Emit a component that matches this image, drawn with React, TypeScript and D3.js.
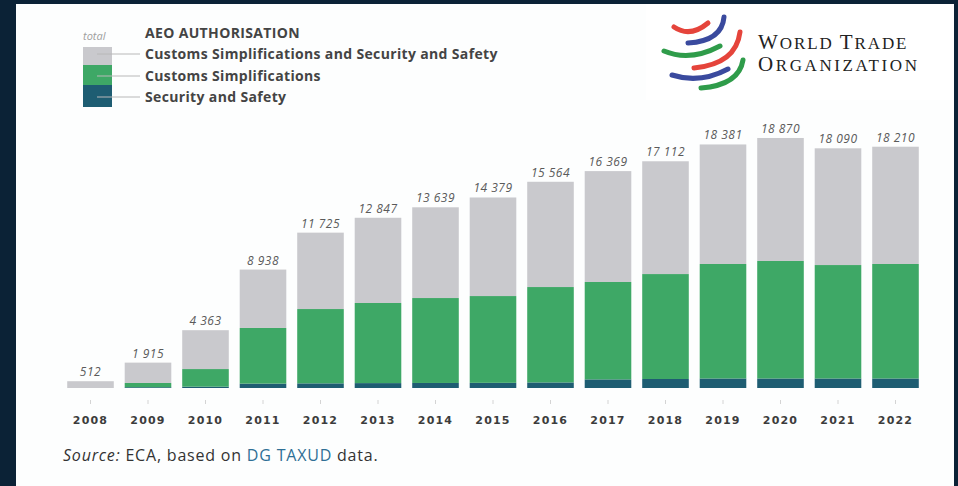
import * as React from 'react';
import * as d3 from 'd3';

// AEO authorisations per year
const years = ['2008', '2009', '2010', '2011', '2012', '2013', '2014', '2015', '2016', '2017', '2018', '2019', '2020', '2021', '2022'];
const totals = [512, 1915, 4363, 8938, 11725, 12847, 13639, 14379, 15564, 16369, 17112, 18381, 18870, 18090, 18210];
const securitySafety = [0, 60, 100, 330, 350, 370, 380, 390, 420, 650, 680, 720, 720, 720, 720];
const customsSimpl = [0, 320, 1330, 4200, 5610, 6045, 6410, 6550, 7200, 7350, 7920, 8640, 8865, 8560, 8640];

const legendItems = [
  {label: 'Customs Simplifications and Security and Safety', color: '#c9c9cd'},
  {label: 'Customs Simplifications', color: '#3ea866'},
  {label: 'Security and Safety', color: '#1e5d72'},
];

const W = 958;
const H = 486;

const fmt = (v: number) => d3.format(',d')(v).replace(',', ' ');

export default function App() {
  const x = d3.scaleBand<string>()
    .domain(years)
    .range([61.75, 924.25])
    .paddingInner(0.19)
    .paddingOuter(0.095);

  const y = d3.scaleLinear().domain([0, 20000]).range([388, 123]);

  const rows = years.map((yr, i) => {
    const ss = securitySafety[i];
    const cs = customsSimpl[i];
    return {yr, total: totals[i], ss, cs, both: totals[i] - ss - cs};
  });

  const stack = d3.stack<any>().keys(['ss', 'cs', 'both'])(rows);
  const colors: Record<string, string> = {ss: '#1e5d72', cs: '#3ea866', both: '#c9c9cd'};

  const font = '"Open Sans", sans-serif';

  return (
    <svg width={W} height={H} style={{position: 'absolute', left: 0, top: 0}} fontFamily={font}>
      <rect width={W} height={H} fill="#0b2236" />
      <rect x={16} y={4} width={938} height={H - 4} fill="#fdfefe" />

      {/* legend */}
      <text x={83} y={40} fontSize={11} fontStyle="italic" fill="#a0a0a0">total</text>
      <rect x={83} y={47} width={29} height={18} fill={legendItems[0].color} />
      <rect x={83} y={65} width={29} height={20} fill={legendItems[1].color} />
      <rect x={83} y={85} width={29} height={22} fill={legendItems[2].color} />
      {[54, 76, 97].map(ly => (
        <line key={ly} x1={97} x2={140} y1={ly} y2={ly} stroke="#b8b8b8" strokeWidth={1} />
      ))}
      <text x={145} y={38} fontSize={14} fontWeight="bold" fill="#444" letterSpacing={0.35}>AEO AUTHORISATION</text>
      {legendItems.map((d, i) => (
        <text key={d.label} x={145} y={[59, 81, 102][i]} fontSize={14} fontWeight="bold" fill="#444" letterSpacing={0.35}>
          {d.label}
        </text>
      ))}

      {/* bars */}
      {stack.map(layer => (
        <g key={layer.key} fill={colors[layer.key]}>
          {layer.map((seg, i) => (
            seg[1] > seg[0] ? (
              <rect key={i} x={x(years[i])} y={y(seg[1])} width={x.bandwidth()}
                height={y(seg[0]) - y(seg[1])} />
            ) : null
          ))}
        </g>
      ))}

      {/* total labels */}
      {rows.map(r => (
        <text key={r.yr} x={(x(r.yr) as number) + x.bandwidth() / 2} y={y(r.total) - 5}
          textAnchor="middle" fontSize={12} fontStyle="italic" fill="#5a5a5a" letterSpacing={0.5}>
          {fmt(r.total)}
        </text>
      ))}

      {/* ticks and year labels */}
      {years.map(yr => {
        const cx = (x(yr) as number) + x.bandwidth() / 2;
        return (
          <g key={yr}>
            <line x1={cx} x2={cx} y1={400} y2={404} stroke="#d4d4d4" />
            <text x={cx} y={424} textAnchor="middle" fontSize={11} fontFamily='"DejaVu Sans", sans-serif'
              fontWeight="bold" fill="#3c3c3c" letterSpacing={1.2}>
              {yr}
            </text>
          </g>
        );
      })}

      <text x={63} y={461} fontSize={16} fill="#333" letterSpacing={0.8}>
        <tspan fontStyle="italic">Source:</tspan>
        <tspan> ECA, based on </tspan>
        <tspan fill="#2f6f95">DG TAXUD</tspan>
        <tspan> data.</tspan>
      </text>

      {/* WTO logo */}
      <rect x={646} y={4} width={305} height={96} fill="#ffffff" />
      <g fill="none" strokeLinecap="round" strokeWidth={5}>
        <path d="M674,27 Q690,38 708,23" stroke="#e5443b" />
        <path d="M688,43 Q722,41 724,17" stroke="#3a4a9e" />
        <path d="M664,51 Q690,62 720,46" stroke="#2f9c4a" />
        <path d="M694,68 Q736,64 740,32" stroke="#e5443b" />
        <path d="M672,75 Q700,84 728,69" stroke="#3a4a9e" />
        <path d="M701,88 Q739,85 743,60" stroke="#2f9c4a" />
      </g>
      <g fontFamily='"Liberation Serif", "DejaVu Serif", serif' fill="#222">
        <text x={758} y={49} letterSpacing={1.9}>
          <tspan fontSize={21}>W</tspan><tspan fontSize={17}>ORLD </tspan>
          <tspan fontSize={21}>T</tspan><tspan fontSize={17}>RADE</tspan>
        </text>
        <text x={758} y={71} letterSpacing={2.6}>
          <tspan fontSize={21}>O</tspan><tspan fontSize={17}>RGANIZATION</tspan>
        </text>
      </g>
    </svg>
  );
}
